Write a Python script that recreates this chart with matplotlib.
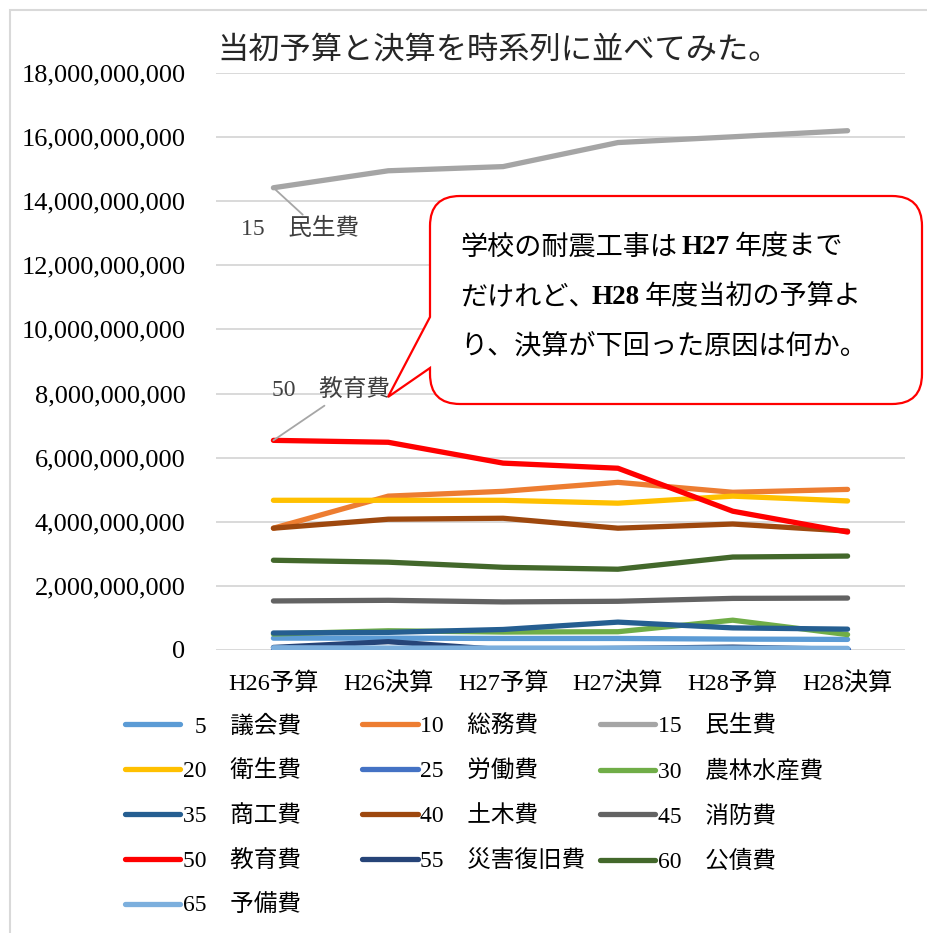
import matplotlib
matplotlib.use("Agg")
import matplotlib.pyplot as plt
from matplotlib.path import Path
from matplotlib.patches import PathPatch, Rectangle
from matplotlib.text import Annotation
from matplotlib.font_manager import FontProperties
from matplotlib.ticker import FuncFormatter

W, H = 928, 933

MIX = ["Liberation Serif", "Noto Sans CJK JP"]
GRID = "#D9D9D9"

periods = ["H26予算", "H26決算", "H27予算", "H27決算", "H28予算", "H28決算"]

codes = [" 5", "10", "15", "20", "25", "30", "35", "40", "45", "50", "55", "60", "65"]
names = ["議会費", "総務費", "民生費", "衛生費", "労働費", "農林水産費", "商工費",
         "土木費", "消防費", "教育費", "災害復旧費", "公債費", "予備費"]
colors = ["#5B9BD5", "#ED7D31", "#A5A5A5", "#FFC000", "#4472C4", "#70AD47", "#255E91",
          "#9E480E", "#636363", "#FF0000", "#264478", "#43682B", "#7CAFDD"]

# values in 100 million yen (x 1e8)
gikai    = [3.7, 3.7, 3.6, 3.6, 3.4, 3.3]
somu     = [38.0, 48.0, 49.5, 52.3, 49.2, 50.1]
minsei   = [144.2, 149.5, 150.8, 158.3, 160.1, 162.0]
eisei    = [46.7, 46.7, 46.7, 45.8, 48.0, 46.5]
rodo     = [0.3, 0.3, 0.3, 0.3, 0.3, 0.3]
norin    = [5.0, 6.0, 5.6, 5.7, 9.3, 4.8]
shoko    = [5.3, 5.5, 6.4, 8.7, 6.9, 6.5]
doboku   = [38.0, 40.8, 41.1, 38.0, 39.3, 37.1]
shobo    = [15.3, 15.5, 15.0, 15.2, 16.1, 16.2]
kyoiku   = [65.4, 64.8, 58.3, 56.7, 43.3, 36.8]
saigai   = [0.8, 2.6, 0.1, 0.5, 0.9, 0.2]
kosai    = [28.0, 27.4, 25.8, 25.2, 29.0, 29.3]
yobi     = [0.7, 0.6, 0.6, 0.6, 0.6, 0.5]

series = [gikai, somu, minsei, eisei, rodo, norin, shoko,
          doboku, shobo, kyoiku, saigai, kosai, yobi]

fig = plt.figure(figsize=(W / 100, H / 100), dpi=100)
fig.patch.set_facecolor("white")

# outer chart frame (cut by the right and bottom edges)
fig.patches.append(Rectangle((10 / W, -0.2), 1.2, 1.2 - 10 / H, transform=fig.transFigure,
                             facecolor="none", edgecolor=GRID, lw=1.5))

ax = fig.add_axes([216 / W, 1 - 650 / H, (905 - 216) / W, (650 - 73) / H])
x = list(range(len(periods)))
handles = []
for vals, col in zip(series, colors):
    ln, = ax.plot(x, [v * 1e8 for v in vals], color=col, lw=3.8,
                  solid_capstyle="round", solid_joinstyle="round")
    handles.append(ln)

ax.set_xlim(-0.5, 5.5)
ax.set_ylim(0, 18e9)
ax.set_yticks([i * 2e9 for i in range(10)])
ax.yaxis.set_major_formatter(FuncFormatter(lambda v, p: f"{int(round(v)):,}"))
ax.set_xticks(x)
ax.set_xticklabels(periods)
ax.grid(axis="y", color=GRID, lw=1.4)
ax.set_axisbelow(True)
for s in ax.spines.values():
    s.set_visible(False)
ax.tick_params(length=0)
ax.tick_params(axis="y", pad=22)
ax.tick_params(axis="x", pad=16)
for lab in ax.get_yticklabels():
    lab.set_fontfamily(MIX)
    lab.set_fontsize(19)
    lab.set_color("#000000")
for lab in ax.get_xticklabels():
    lab.set_fontfamily(MIX)
    lab.set_fontsize(17.5)
    lab.set_color("#000000")

# data labels with leader lines
ax.annotate("15\u3000民生費", xy=(0, minsei[0] * 1e8), xytext=(0.23, 13.15e9),
            ha="center", va="center", fontsize=17, family=MIX, color="#404040",
            arrowprops=dict(arrowstyle="-", color="#A6A6A6", lw=1.3,
                            shrinkA=0, shrinkB=0, relpos=(0.55, 1.0)))
ax.annotate("50\u3000教育費", xy=(0, kyoiku[0] * 1e8), xytext=(0.5, 8.1e9),
            ha="center", va="center", fontsize=17, family=MIX, color="#404040",
            arrowprops=dict(arrowstyle="-", color="#A6A6A6", lw=1.3,
                            shrinkA=2, shrinkB=0, relpos=(0.5, 0.0)))

# title
fig.text(499 / W, 1 - 50 / H, "当初予算と決算を時系列に並べてみた。", ha="center", va="center",
         fontsize=22.5, family="Noto Sans CJK JP", color="#262626")

# legend, laid out row by row like the original
order = [0, 3, 6, 9, 12, 1, 4, 7, 10, 2, 5, 8, 11]
labels = []
for code, name in zip(codes, names):
    lab = code.replace(" ", "\u2002") + "\u3000" + name
    labels.append(lab + "\u3000" * (5 - len(name)))
fig.legend([handles[i] for i in order], [labels[i] for i in order],
           loc="upper left", bbox_to_anchor=(125 / W, 1 - 715 / H), ncol=3,
           frameon=False, borderpad=0, borderaxespad=0, handlelength=2.35,
           handletextpad=0.1, columnspacing=0.6, labelspacing=0.97,
           prop=FontProperties(family=MIX, size=17))


# speech bubble
def fp(px, py):
    return (px / W, 1 - py / H)


x0, x1, y0, y1, r = 430, 922, 196, 404, 30
verts = [fp(x0 + r, y0), fp(x1 - r, y0), fp(x1, y0), fp(x1, y0 + r), fp(x1, y1 - r),
         fp(x1, y1), fp(x1 - r, y1), fp(x0 + r, y1), fp(x0, y1), fp(x0, y1 - r),
         fp(x0, 368), fp(388, 397), fp(x0, 317), fp(x0, y0 + r), fp(x0, y0), fp(x0 + r, y0),
         fp(x0 + r, y0)]
pcodes = [Path.MOVETO, Path.LINETO, Path.CURVE3, Path.CURVE3, Path.LINETO,
          Path.CURVE3, Path.CURVE3, Path.LINETO, Path.CURVE3, Path.CURVE3,
          Path.LINETO, Path.LINETO, Path.LINETO, Path.LINETO, Path.CURVE3, Path.CURVE3,
          Path.CLOSEPOLY]
fig.patches.append(PathPatch(Path(verts, pcodes), transform=fig.transFigure,
                             facecolor="white", edgecolor="#FF0000", lw=1.6, zorder=5))

# (text, bold, gap before in px)
lines = [
    [("学校の耐震工事は", False, 0), ("H27", True, 5), ("年度まで", False, 5)],
    [("だけれど、", False, 0), ("H28", True, -4), ("年度当初の予算よ", False, 5)],
    [("り、決算が下回った原因は何か。", False, 0)],
]
for i, pieces in enumerate(lines):
    prev = None
    for txt, bold, gap in pieces:
        kw = dict(fontsize=19.5, color="#000000", va="center", ha="left",
                  family=MIX, fontweight="bold" if bold else "normal")
        if prev is None:
            prev = fig.text(460 / W, 1 - (248 + 49.5 * i) / H, txt, zorder=6, **kw)
        else:
            prev = fig.add_artist(Annotation(txt, xy=(1, 0.5), xycoords=prev, xytext=(gap, 0),
                                             textcoords="offset pixels", **kw))
            prev.set_zorder(6)

fig.savefig("out.png", dpi=100, facecolor="white")
